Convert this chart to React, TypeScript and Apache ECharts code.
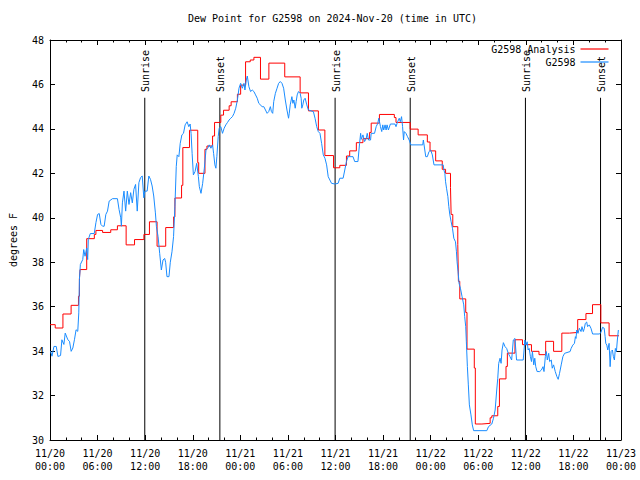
import React, { useEffect, useRef } from "react";
import * as echarts from "echarts";

const chartTitle = "Dew Point for G2598 on 2024-Nov-20 (time in UTC)";
const yAxisName = "degrees F";
const seriesNames = ["G2598 Analysis", "G2598"];

// hours since 11/20 00:00 UTC (step values hold until next hour mark)
const analysisHours = [
  0, 0.66, 1.63, 2.66, 3.59, 3.71, 3.79, 4.63, 5.59, 5.79, 6.63, 7.66, 8.5, 9.6, 10.66, 11.84,
  12.54, 13.5, 14.59, 15.59, 15.75, 16.59, 16.75, 17.59, 18.63, 18.75, 19.54, 19.79, 20.5, 20.75,
  21.54, 21.88, 22.59, 22.84, 23.63, 24.04, 24.66, 25.25, 25.71, 26.54, 27.6, 29.6, 31.54, 32.59,
  33.84, 34.66, 35.75, 36.54, 37.38, 37.79, 38.63, 39.46, 40.3, 40.5, 41.54, 43.42, 43.63, 45.42,
  46.42, 47.58, 47.92, 48.63, 49.46, 49.88, 50.5, 50.58, 50.79, 51.42, 51.5, 51.67, 52.42, 52.58,
  53.5, 53.63, 54.46, 55.5, 55.71, 56.46, 56.67, 57.5, 57.67, 58.63, 59.58, 60.71, 61.66, 62.5,
  63.5, 64.54, 65.5, 66.54, 67.58, 68.41, 69.46, 70.5, 71.75,
];
const analysisValues = [
  35.19, 35.04, 35.67, 36.06, 36.47, 37.26, 37.67, 39.06, 39.25, 39.43, 39.34, 39.46, 39.64, 38.78,
  39.02, 39.25, 39.82, 38.72, 39.56, 40.04, 40.89, 41.46, 43.16, 43.94, 42.48, 42.0, 43.08, 43.23,
  43.68, 44.29, 44.62, 44.84, 45.04, 45.22, 45.56, 45.97, 47.02, 47.1, 47.22, 46.24, 46.96, 46.34,
  45.62, 44.81, 43.95, 42.8, 42.25, 42.36, 42.78, 43.01, 43.38, 43.56, 43.84, 44.26, 44.65, 44.51,
  44.29, 43.99, 43.73, 43.41, 43.01, 42.56, 42.18, 42.0, 41.36, 40.15, 39.6, 38.8, 37.14, 36.35,
  35.74, 34.09, 33.24, 30.72, 30.75, 31.0, 31.09, 31.51, 32.75, 33.31, 33.91, 34.51, 34.29, 33.99,
  33.84, 34.44, 33.99, 34.81, 34.84, 35.42, 35.69, 36.09, 35.27, 34.69, 34.69,
];

const obsHours = [
  0, 0.08, 0.25, 0.5, 0.79, 1.0, 1.33, 1.5, 1.75, 1.92, 2.25, 2.46, 2.67, 2.88, 3.08, 3.29, 3.5,
  3.63, 3.71, 3.83, 4.13, 4.25, 4.42, 4.63, 4.75, 4.83, 5.08, 5.58, 5.79, 6.0, 6.21, 6.42, 6.63,
  6.83, 7.04, 7.25, 7.46, 7.88, 8.5, 8.71, 8.92, 9.0, 9.13, 9.33, 9.54, 9.75, 9.96, 10.17, 10.38,
  10.58, 10.79, 11.0, 11.21, 11.42, 11.63, 11.83, 11.96, 12.25, 12.46, 12.67, 12.88, 13.08, 13.29,
  13.42, 13.63, 13.83, 14.04, 14.25, 14.46, 14.58, 14.75, 15.0, 15.17, 15.38, 15.58, 15.75, 15.92,
  16.04, 16.25, 16.42, 16.63, 16.83, 17.04, 17.29, 17.5, 17.67, 17.79, 17.92, 18.08, 18.29, 18.5,
  18.71, 18.83, 19.04, 19.25, 19.46, 19.67, 19.88, 20.08, 20.29, 20.5, 20.63, 20.79, 20.92, 21.04,
  21.21, 21.33, 21.54, 21.75, 21.96, 22.17, 22.38, 22.58, 22.79, 23.0, 23.21, 23.42, 23.63, 23.83,
  24.04, 24.25, 24.46, 24.58, 24.75, 24.88, 25.08, 25.29, 25.5, 25.71, 25.92, 26.13, 26.33, 26.75,
  26.96, 27.17, 27.38, 27.58, 27.79, 27.92, 28.08, 28.21, 28.42, 28.63, 28.83, 29.04, 29.25, 29.46,
  29.67, 29.88, 30.08, 30.17, 30.29, 30.5, 30.63, 30.75, 30.92, 31.04, 31.17, 31.33, 31.54, 31.67,
  31.75, 31.88, 32.0, 32.17, 32.38, 32.58, 33.21, 33.42, 33.63, 33.83, 34.04, 34.25, 34.46, 34.67,
  34.88, 35.08, 35.29, 35.5, 35.92, 36.33, 36.54, 36.96, 37.17, 37.38, 37.58, 38.21, 38.42, 38.83,
  38.96, 39.04, 39.17, 39.25, 39.46, 39.67, 39.88, 40.0, 40.17, 40.42, 40.5, 40.92, 41.13, 41.33,
  41.46, 41.67, 41.83, 41.96, 42.08, 42.25, 42.38, 42.5, 42.67, 42.92, 43.5, 43.63, 43.83, 44.04,
  44.17, 44.33, 44.46, 44.58, 44.67, 44.88, 45.08, 45.29, 45.5, 47.0, 47.08, 47.38, 47.58, 47.79,
  48.0, 48.21, 48.42, 49.58, 49.67, 49.79, 49.88, 50.0, 50.17, 50.29, 50.42, 50.58, 50.75, 50.92,
  51.13, 51.25, 51.33, 51.46, 51.58, 51.75, 51.96, 52.17, 52.29, 52.42, 52.5, 52.63, 52.75, 52.88,
  53.08, 53.25, 53.42, 55.08, 55.29, 55.71, 55.92, 56.13, 56.33, 56.46, 56.58, 56.75, 56.88, 57.0,
  57.17, 57.38, 57.58, 57.79, 58.0, 58.21, 58.42, 58.63, 58.83, 59.67, 59.88, 60.0, 60.17, 60.29,
  60.42, 60.58, 60.71, 60.83, 61.0, 61.13, 61.25, 61.42, 61.75, 61.96, 62.17, 62.29, 62.46, 62.58,
  62.71, 62.88, 63.0, 63.21, 63.33, 63.5, 63.71, 63.92, 64.08, 64.25, 64.46, 64.67, 64.88, 65.58,
  65.71, 65.92, 66.13, 66.25, 66.33, 66.42, 66.58, 66.75, 66.96, 67.08, 67.25, 67.38, 67.5, 67.67,
  67.79, 68.0, 68.21, 68.42, 69.25, 69.46, 69.67, 69.88, 70.0, 70.08, 70.21, 70.33, 70.5, 70.63,
  70.75, 70.92, 71.04, 71.17, 71.29, 71.42, 71.54, 71.67,
];
const obsValues = [
  33.97, 33.99, 33.77, 34.21, 34.21, 33.76, 33.8, 34.51, 34.3, 34.81, 34.51, 34.44, 33.99, 34.14,
  34.51, 34.96, 34.89, 35.72, 37.22, 37.9, 38.12, 38.57, 38.27, 38.64, 38.12, 39.02, 39.29, 39.29,
  39.78, 40.15, 40.19, 39.7, 39.62, 39.62, 40.15, 40.3, 40.75, 40.86, 40.86, 40.37, 40.0, 39.62,
  40.67, 41.2, 40.3, 41.2, 40.6, 41.13, 40.67, 41.28, 41.5, 40.3, 41.58, 41.81, 41.88, 40.9, 41.2,
  41.2, 41.88, 41.73, 41.43, 40.98, 40.22, 39.6, 39.15, 38.4, 37.65, 38.1, 38.17, 38.0, 37.35,
  37.35, 38.0, 38.47, 39.15, 40.5, 42.3, 42.83, 42.75, 43.35, 43.73, 43.8, 44.18, 44.32, 44.1,
  44.22, 43.8, 42.9, 41.93, 42.08, 42.45, 41.85, 41.4, 41.1, 41.55, 42.23, 43.05, 43.13, 43.28,
  43.13, 43.28, 42.9, 42.38, 42.23, 42.75, 43.65, 44.03, 44.1, 43.8, 44.03, 44.18, 44.29, 44.4,
  44.48, 44.55, 44.7, 44.93, 45.3, 45.83, 46.05, 45.83, 46.05, 45.75, 46.2, 46.38, 45.9, 45.68,
  45.75, 45.68, 45.53, 45.38, 45.15, 45.0, 45.0, 44.85, 44.7, 44.78, 45.0, 44.78, 44.7, 45.23,
  45.6, 45.83, 46.05, 46.13, 46.05, 45.83, 45.3, 44.85, 44.48, 44.7, 45.08, 45.45, 45.15, 45.3,
  44.93, 45.23, 45.53, 45.68, 45.6, 45.38, 44.93, 45.08, 45.3, 45.38, 45.08, 44.85, 44.78, 44.48,
  44.1, 43.88, 43.8, 43.35, 42.83, 42.68, 42.38, 41.85, 41.7, 41.55, 41.52, 41.55, 41.78, 41.78,
  42.15, 42.53, 42.75, 42.75, 42.53, 42.53, 43.05, 43.35, 43.8, 43.53, 43.73, 43.43, 43.58, 43.8,
  43.5, 43.5, 43.8, 43.8, 44.1, 44.25, 44.48, 44.1, 43.88, 44.18, 43.95, 44.18, 43.95, 44.18,
  43.95, 44.22, 44.22, 44.1, 44.32, 44.48, 44.32, 44.55, 44.1, 43.5, 43.88, 43.8, 43.65, 43.5,
  43.28, 43.28, 43.5, 42.75, 42.75, 42.98, 43.05, 42.83, 42.38, 42.38, 42.15, 42.0, 41.62, 41.33,
  40.95, 40.5, 40.13, 39.82, 39.53, 39.08, 38.92, 38.47, 38.02, 37.57, 37.05, 36.83, 36.45, 36.08,
  35.55, 35.1, 34.42, 33.3, 32.48, 31.58, 31.13, 30.68, 30.42, 30.42, 30.6, 30.72, 30.98, 31.35,
  32.25, 32.78, 33.45, 33.68, 33.45, 34.05, 34.38, 34.2, 34.12, 33.9, 33.75, 33.6, 34.5, 34.57,
  33.6, 33.6, 34.5, 34.27, 34.42, 34.05, 34.12, 33.75, 33.53, 33.98, 33.38, 33.68, 33.3, 33.08,
  33.08, 33.15, 33.3, 33.08, 33.75, 33.98, 33.6, 33.9, 33.53, 33.6, 33.23, 33.38, 33.08, 32.85,
  32.73, 33.0, 33.38, 33.75, 33.9, 33.98, 34.12, 34.27, 34.35, 34.65, 34.57, 34.95, 34.8, 35.03,
  34.88, 35.1, 34.88, 35.03, 35.25, 35.31, 35.1, 35.18, 35.03, 34.77, 34.77, 34.83, 35.07, 35.03,
  34.65, 34.35, 34.27, 34.05, 34.35, 33.3, 33.98, 34.05, 33.75, 33.6, 34.12, 33.98, 34.5, 34.95,
];

const eventHours = [11.95, 21.42, 35.95, 45.42, 59.95, 69.42];
const eventNames = ["Sunrise", "Sunset", "Sunrise", "Sunset", "Sunrise", "Sunset"];

const startMonth = 11;
const startDay = 20;
const xMin = 0;
const xMax = 72;
const xStep = 6;
const yMin = 30;
const yMax = 48;
const yStep = 2;

const FONT = "DejaVu Sans Mono";
const RED = "#ff0000";
const BLUE = "#1a8cff";

function fmtTime(v: number): string {
  const day = startDay + Math.floor(v / 24);
  const hr = Math.round(v % 24);
  const hh = hr < 10 ? "0" + hr : String(hr);
  return `${startMonth}/${day}\n${hh}:00`;
}

export default function App() {
  const ref = useRef<HTMLDivElement>(null);
  useEffect(() => {
    if (!ref.current) return;
    const chart = echarts.init(ref.current, undefined, { renderer: "svg" });
    const axisLine = { show: true, onZero: false, lineStyle: { color: "#000", width: 1 } };
    const xCommon = {
      type: "value" as const,
      min: xMin,
      max: xMax,
      interval: xStep,
      axisLine,
      axisTick: { show: true, inside: true, length: 5, lineStyle: { color: "#000" } },
      minorTick: { show: true, splitNumber: 3, length: 2.5, lineStyle: { color: "#000" } },
      splitLine: { show: false },
      minorSplitLine: { show: false },
    };
    const yCommon = {
      type: "value" as const,
      min: yMin,
      max: yMax,
      interval: yStep,
      axisLine,
      axisTick: { show: true, inside: true, length: 5, lineStyle: { color: "#000" } },
      splitLine: { show: false },
    };
    const eventTop = 45.4;
    const labelBase = 45.66;
    chart.setOption({
      animation: false,
      backgroundColor: "#fff",
      title: {
        text: chartTitle,
        left: 183,
        top: 8,
        textStyle: { fontFamily: FONT, fontSize: 10, fontWeight: "normal", color: "#000" },
      },
      legend: {
        data: seriesNames,
        orient: "vertical",
        right: 26.5,
        top: 39,
        align: "right",
        icon: "rect",
        itemWidth: 28,
        itemHeight: 1.2,
        itemGap: 3,
        textStyle: { fontFamily: FONT, fontSize: 10, color: "#000" },
      },
      grid: { left: 46, right: 19, top: 40, bottom: 40, containLabel: false },
      xAxis: [
        {
          ...xCommon,
          position: "bottom",
          axisLabel: {
            show: true,
            formatter: fmtTime,
            fontFamily: FONT,
            fontSize: 10,
            color: "#000",
            lineHeight: 13,
            margin: 7,
          },
        },
        { ...xCommon, position: "top", axisLabel: { show: false } },
      ],
      yAxis: [
        {
          ...yCommon,
          position: "left",
          name: yAxisName,
          nameLocation: "middle",
          nameGap: 32,
          nameTextStyle: { fontFamily: FONT, fontSize: 10, color: "#000" },
          axisLabel: { show: true, fontFamily: FONT, fontSize: 10, color: "#000", margin: 6 },
        },
        { ...yCommon, position: "right", axisLabel: { show: false } },
      ],
      series: [
        {
          type: "custom",
          name: "events",
          silent: true,
          z: 1,
          data: eventHours.map((h) => [h, yMin]),
          renderItem: (params: any, api: any) => {
            const h = api.value(0);
            const p0 = api.coord([h, yMin]);
            const p1 = api.coord([h, eventTop]);
            const pt = api.coord([h, labelBase]);
            return {
              type: "group",
              children: [
                {
                  type: "line",
                  shape: { x1: p0[0], y1: p0[1], x2: p1[0], y2: p1[1] },
                  style: { stroke: "#000", lineWidth: 1 },
                },
                {
                  type: "text",
                  x: pt[0] + 1,
                  y: pt[1],
                  rotation: Math.PI / 2,
                  style: {
                    text: eventNames[params.dataIndex],
                    fontFamily: FONT,
                    fontSize: 10,
                    fill: "#000",
                    align: "left",
                    verticalAlign: "middle",
                  },
                },
              ],
            };
          },
        },
        {
          type: "line",
          name: seriesNames[0],
          step: "end",
          symbol: "none",
          z: 3,
          lineStyle: { color: RED, width: 1 },
          itemStyle: { color: RED },
          data: analysisHours.map((h, i) => [h, analysisValues[i]]),
        },
        {
          type: "line",
          name: seriesNames[1],
          symbol: "none",
          z: 4,
          lineStyle: { color: BLUE, width: 1 },
          itemStyle: { color: BLUE },
          data: obsHours.map((h, i) => [h, obsValues[i]]),
        },
      ],
    });
    return () => chart.dispose();
  }, []);
  return (
    <div
      ref={ref}
      style={{ position: "absolute", left: 0, top: 0, width: 640, height: 480 }}
    />
  );
}
